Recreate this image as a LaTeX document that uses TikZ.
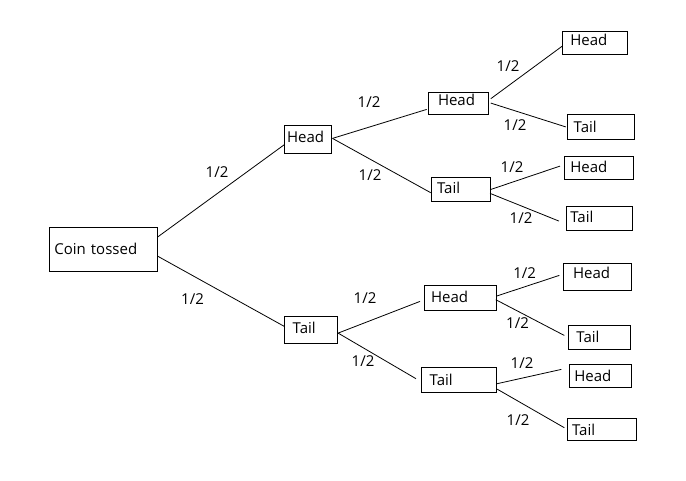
\documentclass[tikz,border=0pt]{standalone}
\usepackage{fontspec}
\setmainfont{Open Sans}
\tikzset{
  box/.style={draw, line width=0.8pt, anchor=north west, align=left,
    inner ysep=1pt, text height=11pt, text depth=0pt},
  prob/.style={inner sep=0pt, text height=11pt, text depth=0pt}
}
\begin{document}
\begin{tikzpicture}[x=1pt, y=-1pt, font=\fontsize{15pt}{18pt}\selectfont]
      \fill[white] (0,0) rectangle (686,481);
      \useasboundingbox (0,0) rectangle (686,481);
      \node[box, minimum width=107.7pt, minimum height=44.6pt, inner xsep=5pt, text width=97.7pt] (coin) at (49,226.7) {Coin tossed};
      \node[box, minimum width=46.4pt, minimum height=28.6pt, inner xsep=2.4pt, text width=41.6pt, text depth=4pt] (h) at (284.3,124.7) {Head};
      \node[box, minimum width=53pt, minimum height=27.6pt, inner xsep=8pt, text width=37pt, text depth=4pt] (t) at (284.3,315.7) {Tail};
      \node[box, minimum width=60pt, minimum height=22pt, inner xsep=9.3pt, text width=41.4pt, text depth=7pt] (hh) at (428.3,92.3) {Head};
      \node[box, minimum width=59pt, minimum height=24pt, inner xsep=5.4pt, text width=48.2pt, text depth=4pt] (ht) at (431.3,177.3) {Tail};
      \node[box, minimum width=71.4pt, minimum height=25pt, inner xsep=6.4pt, text width=58.6pt, text depth=3pt] (th) at (424.3,285.3) {Head};
      \node[box, minimum width=75.3pt, minimum height=25pt, inner xsep=8.3pt, text width=58.7pt] (tt) at (421,367.3) {Tail};
      \node[box, minimum width=64.4pt, minimum height=23pt, inner xsep=7.7pt, text width=49pt, text depth=6.6pt] (hhh) at (562.3,31.3) {Head};
      \node[box, minimum width=67pt, minimum height=25.6pt, inner xsep=6pt, text width=55pt] (hht) at (567.3,113.7) {Tail};
      \node[box, minimum width=69pt, minimum height=23pt, inner xsep=5.7pt, text width=57.6pt, text depth=2.6pt] (hth) at (564.3,156.3) {Head};
      \node[box, minimum width=66.6pt, minimum height=24pt, inner xsep=4.3pt, text width=58pt, text depth=3pt] (htt) at (565.7,206.3) {Tail};
      \node[box, minimum width=68pt, minimum height=27pt, inner xsep=9.4pt, text width=49.2pt, text depth=7.6pt] (thh) at (563.3,263.3) {Head};
      \node[box, minimum width=61.7pt, minimum height=24.3pt, inner xsep=7.7pt, text width=46.3pt] (tht) at (568.3,324.7) {Tail};
      \node[box, minimum width=62pt, minimum height=23pt, inner xsep=4.7pt, text width=52.6pt] (tth) at (569.3,364.3) {Head};
      \node[box, minimum width=69pt, minimum height=22pt, inner xsep=4.4pt, text width=60.2pt] (ttt) at (567.3,418.3) {Tail};
      \draw
        (217,172) node[prob] (p1){1/2}
        (192.5,299) node[prob] (p2){1/2}
        (369,102) node[prob] (p3){1/2}
        (370,175) node[prob] (p4){1/2}
        (365,298) node[prob] (p5){1/2}
        (363,361) node[prob] (p6){1/2}
        (508,66) node[prob] (p7){1/2}
        (515,125) node[prob] (p8){1/2}
        (512,167) node[prob] (p9){1/2}
        (521,218) node[prob] (p10){1/2}
        (524.7,273) node[prob] (p11){1/2}
        (517.5,323) node[prob] (p12){1/2}
        (522,363) node[prob] (p13){1/2}
        (518,420) node[prob] (p14){1/2};
      \begin{scope}[-, line width=0.8pt]
        \draw ([yshift=12.3pt]coin.east) to ([yshift=-5.3pt]h.west);
        \draw ([yshift=-6.7pt]coin.east) to ([yshift=3.5pt]t.west);
        \draw ([xshift=1pt,yshift=1pt]h.east) to ([xshift=-1.6pt,yshift=-5.7pt]hh.west);
        \draw ([xshift=1pt,yshift=1pt]h.east) to ([xshift=-0.6pt,yshift=-3pt]ht.west);
        \draw ([yshift=-3.2pt]t.east) to ([xshift=-4.3pt,yshift=-3.2pt]th.west);
        \draw ([yshift=-3.2pt]t.east) to ([xshift=-5pt,yshift=1.5pt]tt.west);
        \draw ([xshift=1.7pt,yshift=5pt]hh.east) to ([yshift=-2.9pt]hhh.west);
        \draw ([xshift=1.7pt,yshift=0.6pt]hh.east) to ([xshift=-1.6pt]hht.west);
        \draw ([xshift=-1pt]ht.east) to ([xshift=-4.3pt,yshift=2.1pt]hth.west);
        \draw ([xshift=-1pt,yshift=-3.7pt]ht.east) to ([xshift=-6.7pt,yshift=-2.4pt]htt.west);
        \draw ([yshift=2.1pt]th.east) to ([xshift=-4pt,yshift=1.8pt]thh.west);
        \draw ([xshift=-0.7pt,yshift=-1.5pt]th.east) to ([xshift=-4pt,yshift=1.8pt]tht.west);
        \draw ([yshift=-3.5pt]tt.east) to ([xshift=-8pt,yshift=6.8pt]tth.west);
        \draw ([yshift=-8.9pt]tt.east) to ([xshift=-3pt,yshift=2pt]ttt.west);
      \end{scope}
    \end{tikzpicture}
\end{document}
